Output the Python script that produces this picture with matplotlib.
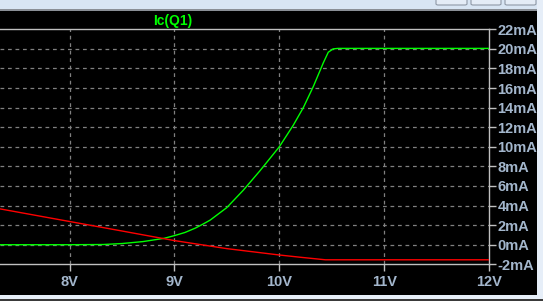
import numpy as np
import matplotlib.pyplot as plt
from matplotlib.patches import Rectangle, FancyBboxPatch

# Ic(Q1) in mA against the swept voltage
vg = [7.336, 8.0, 8.32, 8.5, 8.7, 8.9, 9.0, 9.1, 9.2, 9.276, 9.34, 9.498, 9.657,
      9.816, 10.0, 10.133, 10.229, 10.324, 10.419, 10.467, 10.514, 10.56, 12.0]
ic = [0.0, 0.0, 0.02, 0.12, 0.32, 0.65, 0.93, 1.25, 1.7, 2.13, 2.51, 3.78, 5.57,
      7.56, 10.0, 12.2, 14.0, 16.15, 18.56, 19.66, 20.0, 20.05, 20.05]

# second trace (red)
vr = [7.336, 8.0, 8.5, 9.0, 9.5, 10.0, 10.2, 10.44, 12.0]
ir = [3.66, 2.37, 1.4, 0.42, -0.4, -1.05, -1.28, -1.54, -1.54]

xticks = [8, 9, 10, 11, 12]
xlabels = ["8V", "9V", "10V", "11V", "12V"]
yticks = list(range(-2, 23, 2))
ylabels = [f"{t}mA" for t in yticks]

W, H = 543, 301
fig = plt.figure(figsize=(W / 100, H / 100), dpi=100, facecolor="black")

# window chrome around the black panel
fig.patches.append(Rectangle((0, 1 - 9.5 / H), 1, 9.5 / H, transform=fig.transFigure,
                             facecolor="#d8e5f3", edgecolor="none", zorder=0))
fig.patches.append(Rectangle((0, 1 - 10.5 / H), 1, 1.2 / H, transform=fig.transFigure,
                             facecolor="#8a8f96", edgecolor="none", zorder=0))
fig.patches.append(Rectangle((537 / W, 0), 6 / W, 1, transform=fig.transFigure,
                             facecolor="#e6eef8", edgecolor="none", zorder=0))
fig.patches.append(Rectangle((0, 2 / H), 1, 4 / H, transform=fig.transFigure,
                             facecolor="#e6eef8", edgecolor="none", zorder=0))
fig.patches.append(Rectangle((0, 0), 1, 2 / H, transform=fig.transFigure,
                             facecolor="#3a3a3a", edgecolor="none", zorder=0))
for x0, x1 in [(436, 467), (471, 501), (505, 536)]:
    fig.patches.append(FancyBboxPatch((x0 / W, 1 - 5 / H), (x1 - x0) / W, 8 / H,
                                      boxstyle="round,pad=0,rounding_size=0.004",
                                      transform=fig.transFigure, facecolor="#e4ecf6",
                                      edgecolor="#8f99a6", linewidth=0.8, zorder=1))

left, right = 0 / W, 489 / W
top, bottom = 1 - 29.3 / H, 1 - 264.3 / H
ax = fig.add_axes([left, bottom, right - left, top - bottom])
ax.set_facecolor("black")

ax.plot(vg, ic, color="#00ff00", linewidth=1.0, zorder=3)
ax.plot(vr, ir, color="#ff0000", linewidth=1.0, zorder=3)

ax.set_xlim(7.336, 12)
ax.set_ylim(-2, 22)

ax.set_xticks(xticks)
ax.set_xticklabels(xlabels)
ax.set_yticks(yticks)
ax.set_yticklabels(ylabels)
ax.yaxis.tick_right()

lab = "#a3b6cc"
ax.tick_params(axis="both", colors="#c0c0c0", length=5, width=1, direction="out",
               labelcolor=lab, labelsize=10.5)
ax.tick_params(axis="x", pad=3)
ax.tick_params(axis="y", pad=1)
for t in ax.get_xticklabels() + ax.get_yticklabels():
    t.set_fontfamily("Liberation Sans")
    t.set_fontweight("bold")

for s in ["top", "right", "bottom"]:
    ax.spines[s].set_color("#c0c0c0")
    ax.spines[s].set_linewidth(1)
ax.spines["left"].set_visible(False)

for x in xticks[:-1]:
    ax.axvline(x, color="#808080", linestyle=(0, (3, 3)), linewidth=0.9, zorder=1)
for y in yticks[1:-1]:
    ax.axhline(y, color="#808080", linestyle=(0, (3, 3)), linewidth=0.9, zorder=1)

fig.text(173 / W, 1 - 20.5 / H, "Ic(Q1)", color="#00ff00", fontsize=10,
         fontweight="bold", family="Liberation Sans", ha="center", va="center")

fig.savefig("out.png", dpi=100, facecolor="black")
